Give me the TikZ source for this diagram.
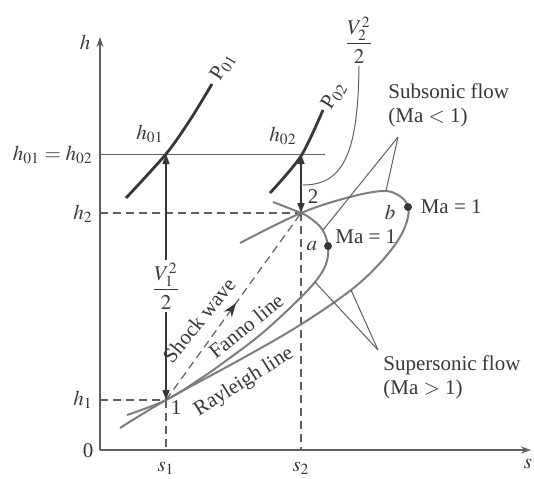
\documentclass[tikz,border=0pt]{standalone}
\usepackage{amsmath}
\usepackage{mathptmx}
\usepackage{fontspec}
\setmainfont{Liberation Serif}
\usetikzlibrary{arrows.meta, positioning, decorations.markings}
\definecolor{curvegray}{RGB}{125,125,125}
\definecolor{inkgray}{RGB}{55,55,55}
\definecolor{axisgray}{RGB}{95,95,95}
\tikzset{
    hsaxis/.style={draw=axisgray, line width=0.9pt, -{Stealth[length=5pt, width=3.5pt]}},
    hscurve/.style={draw=curvegray, line width=1pt},
    hsiso/.style={draw=inkgray, line width=1.4pt},
    hsdash/.style={draw=axisgray, line width=0.6pt, dash pattern=on 4pt off 2.5pt},
    hsthin/.style={draw=axisgray, line width=0.5pt},
    hsdim/.style={draw=inkgray, line width=0.7pt},
    hslabel/.style={font=\fontsize{10.5}{12}\selectfont, text=inkgray, inner sep=1pt},
    hsdot/.style={circle, fill=inkgray, inner sep=0pt, minimum size=4pt}
}

\begin{document}
\begin{tikzpicture}[x=0.5pt, y=-0.5pt]
\useasboundingbox (0,0) rectangle (534,478);

% states and axes
\coordinate (o) at (100,450);
\coordinate (p1) at (166,400);
\coordinate (p2) at (301,213);
\coordinate (p01) at (166,154);
\coordinate (p02) at (301,154);
\coordinate (htop) at (100,37);
\coordinate (send) at (531,450);

\draw[hsaxis] (o) -- (htop);
\draw[hsaxis] (o) -- (send);
\node[hslabel] (hlab) at (85,42) {$h$};
\node[hslabel] (zero) at (88,451) {0};
\node[hslabel] (slab) at (528,464) {$s$};

% reference lines
\draw[hsthin] (100,154) -- (325,154);
\draw[hsdash] (100,213) -- (p2);
\draw[hsdash] (100,400) -- (p1);
\draw[hsdash] (p1) -- (166,450);
\draw[hsdash] (p2) -- (301,450);
\node[hslabel, anchor=east] (h0lab) at (95,155) {$h_{01} = h_{02}$};
\node[hslabel, anchor=east] (h2lab) at (95,214) {$h_2$};
\node[hslabel, anchor=east] (h1lab) at (95,400) {$h_1$};
\node[hslabel] (s1lab) at (166,468) {$s_1$};
\node[hslabel] (s2lab) at (301,468) {$s_2$};

% stagnation pressure lines
\draw[hsiso] plot[smooth] coordinates {(126,198) (166,154) (190,120) (212,84)};
\draw[hsiso] plot[smooth] coordinates {(270,193) (301,156) (323,110)};
\node[hslabel, rotate=58] (P01) at (223,67) {P$_{01}$};
\node[hslabel, rotate=58] (P02) at (334,96) {P$_{02}$};
\node[hslabel] (h01) at (150,134) {$h_{01}$};
\node[hslabel] (h02) at (283,136) {$h_{02}$};

% Fanno and Rayleigh lines
\draw[hscurve] plot[smooth, tension=0.6] coordinates {(127,415) (166,400) (200,379) (227,360) (260,335) (293,305) (315,282) (326,264) (328,246) (322,229) (310,218) (301,213) (273,202)};
\draw[hscurve] plot[smooth, tension=0.6] coordinates {(120,428) (166,400) (243,358) (300,325) (351,290) (381,262) (400,237) (408,217) (407,204) (398,195) (383,191) (350,197) (301,213) (240,243)};

% shock wave
\draw[hsdash, postaction={decorate}, decoration={markings, mark=at position 0.52 with {\arrow[solid, inkgray]{Stealth[length=7pt, width=5pt]}}}] (p1) -- (p2);
\node[hslabel, rotate=51] (shock) at (199,320) {Shock wave};
\node[hslabel, rotate=39] (fanno) at (246,326) {Fanno line};
\node[hslabel, rotate=32] (rayleigh) at (244,382) {Rayleigh line};

% kinetic energy
\node[hslabel] (v1) at (166,286) {$\dfrac{V_1^2}{2}$};
\draw[hsdim, -{Triangle[length=5pt, width=3.5pt]}] (v1.north) -- (p01);
\draw[hsdim, -{Triangle[length=5pt, width=3.5pt]}] (v1.south) -- (p1);
\draw[hsdim, {Triangle[length=5pt, width=3.5pt]}-{Triangle[length=5pt, width=3.5pt]}] (p2) -- (p02);
\node[hslabel] (v2) at (359,40) {$\dfrac{V_2^2}{2}$};
\coordinate (v2end) at (303,185);
\draw[hsthin] (v2.south) .. controls (358,150) and (345,185) .. (v2end);
\node[hslabel] (one) at (176,408) {1};
\node[hslabel] (two) at (313,197) {2};

% sonic points
\node[hsdot] (a) at (328,246) {};
\node[hsdot] (b) at (408,207) {};
\node[hslabel, left=2pt of a] (alab) {$a$};
\node[hslabel] (blab) at (390,212) {$b$};
\node[hslabel, anchor=west] (maa) at (333,237) {Ma = 1};
\node[hslabel, right=3pt of b] (mab) {Ma = 1};

% flow regimes
\node[hslabel, align=left, anchor=west] (sub) at (386,105) {Subsonic flow\\(Ma $<$ 1)};
\node[hslabel, align=left, anchor=west] (super) at (381,377) {Supersonic flow\\(Ma $>$ 1)};
\coordinate (subtip) at (398,137);
\coordinate (suptip) at (378,350);
\draw[hsthin] (subtip) -- (386,191);
\draw[hsthin] (subtip) -- (323,230);
\draw[hsthin] (suptip) -- (315,282);
\draw[hsthin] (suptip) -- (351,290);

\end{tikzpicture}
\end{document}
